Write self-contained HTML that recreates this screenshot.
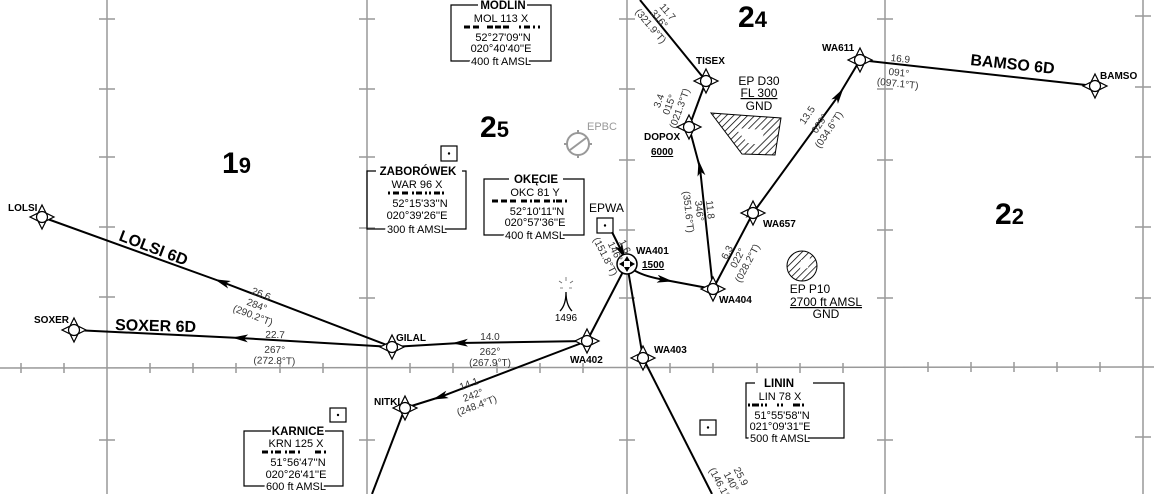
<!DOCTYPE html>
<html><head><meta charset="utf-8"><style>
html,body{margin:0;padding:0;background:#fff;}
svg{display:block;font-family:"Liberation Sans",sans-serif;}
.g{stroke:#999;stroke-width:1.5;fill:none}
.r{stroke:#000;stroke-width:2;fill:none}
.wp{font-size:10px;font-weight:bold}
.s{font-size:10px;fill:#333}
.bx{font-size:11px;text-anchor:middle}
.bt{font-size:11.5px;font-weight:bold;text-anchor:middle}
.big{font-size:30px;font-weight:bold}
.rt{font-size:16px;font-weight:bold}
.m{stroke:#000;stroke-width:3;fill:none}
</style></head><body>
<svg width="1154" height="494" viewBox="0 0 1154 494" xmlns="http://www.w3.org/2000/svg">
<defs>
<g id="wp"><path d="M0,-12 L4,-4 L12,0 L4,4 L0,12 L-4,4 L-12,0 L-4,-4 Z" fill="#fff" stroke="#000" stroke-width="1.2"/><circle r="5.5" fill="#fff" stroke="#000" stroke-width="1.2"/></g>
<marker id="ar" markerWidth="16" markerHeight="8" refX="8" refY="4" orient="auto" markerUnits="userSpaceOnUse"><path d="M0,0 L16,4 L0,8 L4,4 Z" fill="#000"/></marker>
<pattern id="hat" width="5" height="5" patternUnits="userSpaceOnUse" patternTransform="rotate(45)"><line x1="0" y1="0" x2="0" y2="5" stroke="#000" stroke-width="1.5"/></pattern>
</defs>
<g class="g">
<line x1="107" y1="0" x2="107" y2="494"/><line x1="367" y1="0" x2="367" y2="494"/><line x1="627" y1="0" x2="627" y2="494"/><line x1="885" y1="0" x2="885" y2="494"/><line x1="1143" y1="0" x2="1143" y2="494"/>
<line x1="0" y1="368" x2="1154" y2="367"/>
</g>
<g stroke="#999" stroke-width="1.5">
<path d="M99,19h16M99,89h16M99,157h16M99,227h16M99,297h16M99,440h16
M359,19h16M359,89h16M359,157h16M359,228h16M359,298h16M359,440h16
M619,19h16M619,89h16M619,160h16M619,230h16M619,298h16M619,440h16
M877,19h16M877,89h16M877,160h16M877,230h16M877,298h16M877,440h16
M1135,16h16M1135,87h16M1135,157h16M1135,227h16M1135,298h16M1135,437h16"/>
<path d="M21,363v10M64,363v10M150,363v10M193,363v10M236,363v10M280,363v10M323,363v10M410,363v10M453,363v10M497,363v10M540,363v10M583,363v10M670,363v10M713,363v10M757,363v10M800,363v10M843,363v10M928,362v10M971,362v10M1014,362v10M1057,362v10M1100,362v10"/>
</g>
<text x="222" y="173" class="big">1<tspan font-size="22">9</tspan></text>
<text x="480" y="137" class="big">2<tspan font-size="22">5</tspan></text>
<text x="738" y="27" class="big">2<tspan font-size="22">4</tspan></text>
<text x="995" y="224" class="big">2<tspan font-size="22">2</tspan></text>
<line class="r" x1="640" y1="0" x2="706" y2="81"/>
<line class="r" x1="689" y1="127" x2="706" y2="81"/>
<polyline class="r" points="713,289 700,168 689,127" marker-mid="url(#ar)"/>
<polyline class="r" points="713,289 753,213 839,95 860,60" marker-mid="url(#ar)"/>
<line class="r" x1="860" y1="60" x2="1095" y2="86"/>
<path class="r" d="M627,264 Q635,275 665,280" marker-end="url(#ar)"/>
<line class="r" x1="665" y1="280" x2="713" y2="289"/>
<line class="r" x1="627" y1="264" x2="587" y2="341"/>
<polyline class="r" points="587,341 460,343 392,347" marker-mid="url(#ar)"/>
<polyline class="r" points="392,347 222,282 42,217" marker-mid="url(#ar)"/>
<polyline class="r" points="392,347 240,338 74,330" marker-mid="url(#ar)"/>
<polyline class="r" points="587,341 440,397 405,408" marker-mid="url(#ar)"/>
<line class="r" x1="405" y1="408" x2="372" y2="494"/>
<line class="r" x1="627" y1="264" x2="643" y2="358"/>
<line class="r" x1="643" y1="358" x2="712" y2="494"/>
<path class="r" d="M612,232 L622,252" marker-end="url(#ar)"/>
<use href="#wp" x="42" y="217"/><use href="#wp" x="74" y="330"/><use href="#wp" x="392" y="347"/>
<use href="#wp" x="587" y="341"/><use href="#wp" x="405" y="408"/><use href="#wp" x="643" y="358"/>
<use href="#wp" x="713" y="289"/><use href="#wp" x="753" y="213"/><use href="#wp" x="860" y="60"/>
<use href="#wp" x="1095" y="86"/><use href="#wp" x="706" y="81"/><use href="#wp" x="689" y="127"/>
<circle cx="627" cy="264" r="10" fill="#fff" stroke="#000" stroke-width="1.5"/>
<path d="M627,256 l3,5 h-6z M627,272 l3,-5 h-6z M619,264 l5,3 v-6z M635,264 l-5,3 v-6z" fill="#000"/>
<g class="wp">
<text x="8" y="211">LOLSI</text><text x="34" y="323">SOXER</text><text x="396" y="341">GILAL</text>
<text x="570" y="363">WA402</text><text x="374" y="405">NITKI</text><text x="654" y="353">WA403</text>
<text x="719" y="303">WA404</text><text x="763" y="227">WA657</text><text x="822" y="51">WA611</text>
<text x="1100" y="79">BAMSO</text><text x="696" y="64">TISEX</text><text x="644" y="140">DOPOX</text>
<text x="651" y="155" text-decoration="underline">6000</text>
<text x="636" y="254">WA401</text><text x="642" y="268" text-decoration="underline">1500</text>
</g>
<text class="rt" transform="translate(118,240) rotate(21)">LOLSI 6D</text>
<text class="rt" x="115" y="330" transform="rotate(1.5 115 330)">SOXER 6D</text>
<text class="rt" transform="translate(970,65) rotate(6)">BAMSO 6D</text>
<g class="s" text-anchor="middle">
<g transform="translate(260,297) rotate(21)"><text y="0">26.6</text><text y="12">284°</text><text y="23">(290.2°T)</text></g>
<g transform="translate(275,338) rotate(1.5)"><text y="0">22.7</text><text y="15">267°</text><text y="26">(272.8°T)</text></g>
<g transform="translate(490,340)"><text y="0">14.0</text><text y="15">262°</text><text y="26">(267.9°T)</text></g>
<g transform="translate(470,387) rotate(-20)"><text y="0">14.1</text><text y="12">242°</text><text y="23">(248.4°T)</text></g>
<g transform="translate(900,62) rotate(6)"><text y="0">16.9</text><text y="14">091°</text><text y="25">(097.1°T)</text></g>
<g transform="translate(810,117) rotate(-56)"><text y="0">13.5</text><text y="15">029°</text><text y="26">(034.6°T)</text></g>
<g transform="translate(730,254) rotate(-62)"><text y="0">6.3</text><text y="12">022°</text><text y="23">(028.2°T)</text></g>
<g transform="translate(707,210) rotate(84)"><text y="0">11.8</text><text y="11">346°</text><text y="22">(351.6°T)</text></g>
<g transform="translate(662,102) rotate(-70)"><text y="0">3.4</text><text y="11">015°</text><text y="22">(021.3°T)</text></g>
<g transform="translate(665,14) rotate(50)"><text y="0">11.7</text><text y="11">316°</text><text y="22">(321.9°T)</text></g>
<g transform="translate(622,248) rotate(63)"><text y="0">1.6</text><text y="11">146°</text><text y="22">(151.8°T)</text></g>
<g transform="translate(738,478) rotate(62)"><text y="0">25.9</text><text y="11">140°</text><text y="22">(146.1°T)</text></g>
</g>
<g fill="none" stroke="#000" stroke-width="1.2">
<path d="M478,5 H451 V61 H551 V5 H527"/>
<path d="M376,171 H367 V229 H466 V171 H462"/>
<path d="M509,179 H484 V235 H584 V179 H563"/>
<path d="M755,383 H746 V438 H844 V383 H813"/>
<path d="M271,431 H244 V486 H343 V431 H325"/>
<rect x="441" y="146" width="16" height="15"/>
<rect x="597" y="218" width="16" height="15"/>
<rect x="330" y="408" width="16" height="14"/>
<rect x="700" y="420" width="16" height="15"/>
</g>
<g fill="#000"><circle cx="449" cy="153.5" r="1.2"/><circle cx="605" cy="225.5" r="1.2"/><circle cx="338" cy="415" r="1.2"/><circle cx="708" cy="427.5" r="1.2"/></g>
<path class="m" d="M464,27h6M473,27h6 M487,27h6M495,27h6M503,27h6 M519,27h2M524,27h6M533,27h2M538,27h2"/>
<path class="m" d="M388,193h2M393,193h6M402,193h6 M412,193h2M416,193h6M425,193h2 M429,193h2M434,193h6M442,193h2"/>
<path class="m" d="M492,201h6M501,201h6M510,201h6 M521,201h6M530,201h2M534,201h6 M544,201h6M553,201h2M556,201h6M565,201h2"/>
<path class="m" d="M748,405h2M752,405h7M761,405h2M765,405h2 M777,405h2M781,405h2 M793,405h7M802,405h2"/>
<path class="m" d="M262,452h6M271,452h2M275,452h6 M285,452h2M289,452h6M298,452h2 M315,452h6M324,452h2"/>
<text x="503" y="9" class="bt">MODLIN</text>
<text x="501" y="22" class="bx">MOL  113 X</text>
<text x="503" y="41" class="bx">52°27'09''N</text>
<text x="501" y="52" class="bx">020°40'40''E</text>
<text x="501" y="65" class="bx" style="paint-order:stroke" stroke="#fff" stroke-width="4">400 ft AMSL</text>
<text x="418" y="175" class="bt">ZABORÓWEK</text>
<text x="417" y="188" class="bx">WAR  96 X</text>
<text x="420" y="207" class="bx">52°15'33''N</text>
<text x="417" y="219" class="bx">020°39'26''E</text>
<text x="417" y="233" class="bx" style="paint-order:stroke" stroke="#fff" stroke-width="4">300 ft AMSL</text>
<text x="536" y="183" class="bt">OKĘCIE</text>
<text x="535" y="196" class="bx">OKC  81 Y</text>
<text x="537" y="215" class="bx">52°10'11''N</text>
<text x="535" y="226" class="bx">020°57'36''E</text>
<text x="535" y="239" class="bx" style="paint-order:stroke" stroke="#fff" stroke-width="4">400 ft AMSL</text>
<text x="779" y="387" class="bt">LININ</text>
<text x="780" y="400" class="bx">LIN  78 X</text>
<text x="782" y="419" class="bx">51°55'58''N</text>
<text x="780" y="430" class="bx">021°09'31''E</text>
<text x="780" y="442" class="bx" style="paint-order:stroke" stroke="#fff" stroke-width="4">500 ft AMSL</text>
<text x="298" y="435" class="bt">KARNICE</text>
<text x="296" y="447" class="bx">KRN  125 X</text>
<text x="298" y="466" class="bx">51°56'47''N</text>
<text x="296" y="478" class="bx">020°26'41''E</text>
<text x="296" y="490" class="bx" style="paint-order:stroke" stroke="#fff" stroke-width="4">600 ft AMSL</text>
<text x="589" y="212" font-size="12">EPWA</text>
<text x="587" y="130" font-size="11" fill="#999">EPBC</text>
<circle cx="578" cy="144" r="11" fill="none" stroke="#999" stroke-width="2"/>
<path d="M578,130v4M578,154v4M564,144h4M588,144h4M570,150L586,138" stroke="#999" stroke-width="2"/>
<path d="M560,311 Q566,305 566,292 Q566,305 572,311" stroke="#000" fill="none" stroke-width="1.3"/>
<path d="M566,277v4M559,281l3,2M573,281l-3,2M560,288h3M569,288h3" stroke="#666" stroke-width="0.8"/>
<text x="566" y="321" font-size="10" text-anchor="middle">1496</text>
<path d="M711,113 L781,118 L775,155 L742,154 Z" fill="url(#hat)" stroke="#000" stroke-width="1"/>
<path d="M735,128 L765,130 L760,145 L748,143 Z" fill="#fff"/>
<text x="759" y="85" font-size="12" text-anchor="middle">EP D30</text>
<text x="759" y="97" font-size="12" text-anchor="middle" text-decoration="underline">FL 300</text>
<text x="759" y="110" font-size="12" text-anchor="middle">GND</text>
<circle cx="802" cy="266" r="15" fill="url(#hat)" stroke="#000" stroke-width="1"/>
<path d="M801,260 L810,258 L808,268 L800,270 Z" fill="#fff"/>
<text x="810" y="293" font-size="12" text-anchor="middle">EP P10</text>
<text x="826" y="306" font-size="12" text-anchor="middle" text-decoration="underline">2700 ft AMSL</text>
<text x="826" y="318" font-size="12" text-anchor="middle">GND</text>
</svg>
</body></html>
